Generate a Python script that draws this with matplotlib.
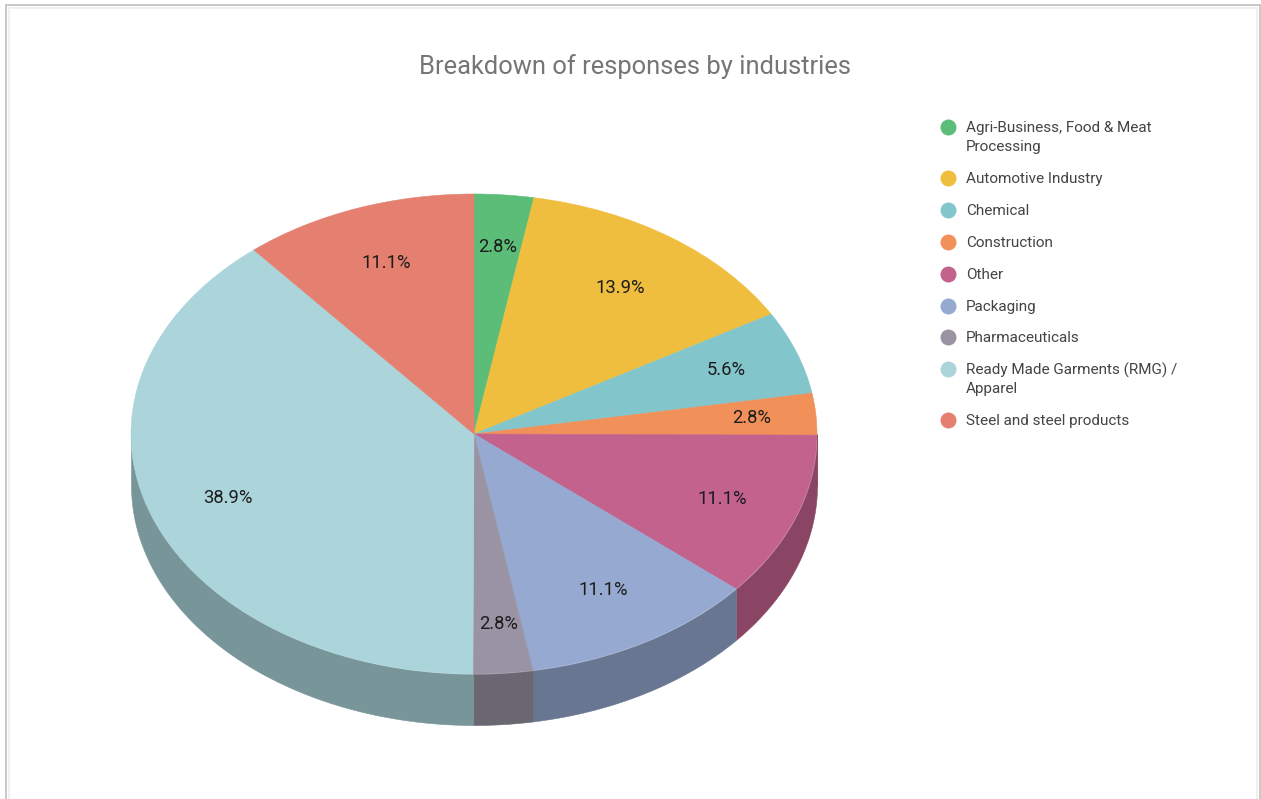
import matplotlib
matplotlib.use('Agg')
import matplotlib.pyplot as plt
from matplotlib.colors import to_rgb
from matplotlib.lines import Line2D
import numpy as np

plt.rcParams['font.family'] = ['Roboto', 'DejaVu Sans']

title = 'Breakdown of responses by industries'
industries = ['Agri-Business, Food & Meat\nProcessing', 'Automotive Industry', 'Chemical',
              'Construction', 'Other', 'Packaging', 'Pharmaceuticals',
              'Ready Made Garments (RMG) /\nApparel', 'Steel and steel products']
shares = [2.8, 13.9, 5.6, 2.8, 11.1, 11.1, 2.8, 38.9, 11.1]
colors = ['#5BBD77', '#F0BE3E', '#82C6CB', '#F19059', '#C4628E',
          '#96A9D0', '#9993A3', '#ABD5DB', '#E57F6F']

W, H = 1261, 799
RX, RY = 343, 240
DEPTH = 51 / RY  # wall height in units of the squashed radius
SHADE = 0.7
# pixel shifts for the percent labels, away from the plain radial spot
label_shift = [(0, -1), (-7, 7), (1, 0), (11, 0), (-3, 0), (-4, -6), (2, 3), (5, 0), (4, 5)]

fig = plt.figure(figsize=(W / 100, H / 100), dpi=100, facecolor='white')

# the axes box is stretched so the unit pie comes out as an ellipse
ax = fig.add_axes([131 / W, 1 - 674 / H, 2 * RX / W, 2 * RY / H])
wedges, texts, autotexts = ax.pie(shares, colors=colors, startangle=90, counterclock=False,
                                  autopct='%.1f%%', pctdistance=0.78,
                                  wedgeprops={'linewidth': 0.4}, frame=False)
for w, c in zip(wedges, colors):
    w.set_edgecolor(c)
    w.set_zorder(3)
for t, (dx, dy) in zip(autotexts, label_shift):
    px, py = t.get_position()
    t.set_position((px + dx / RX, py - dy / RY))
    t.set_fontsize(13.2)
    t.set_color('#1c1c1c')
    t.set_zorder(4)
ax.set_aspect('auto')
ax.set_xlim(-1, 1)
ax.set_ylim(-1, 1)
ax.axis('off')

# side wall of the disc, only the front half can be seen
ends = 360 * np.cumsum(shares) / np.sum(shares)
starts = np.concatenate([[0], ends[:-1]])
for a, b, c in zip(starts, ends, colors):
    a, b = max(a, 90), min(b, 270)
    if b <= a:
        continue
    t = np.radians(np.linspace(a, b, 120))
    x = np.sin(t)
    y = np.cos(t)
    dark = tuple(v * SHADE for v in to_rgb(c))
    ax.fill_between(x, y, y - DEPTH, color=dark, linewidth=0.4, clip_on=False, zorder=2)

fig.text(635 / W, 1 - 67 / H, title, ha='center', va='center', fontsize=18.4, color='#757575')

# legend by hand, dot sits on the first line of a wrapped name
row = 127
for name, c in zip(industries, colors):
    fig.add_artist(Line2D([948 / W], [1 - row / H], linestyle='none', marker='o', markersize=11.5,
                          markeredgewidth=0, color=c))
    lines = name.split('\n')
    for i, part in enumerate(lines):
        fig.text(966 / W, 1 - (row + 5 + 19 * i) / H, part, ha='left', va='baseline',
                 fontsize=11, color='#444444')
    row += 31.9 + 19 * (len(lines) - 1)

# page frame around the chart
for xs, ys, col, lw in [((6, 6), (5, 799), '#c8c8c8', 1.4), ((6, 1260), (5, 5), '#c8c8c8', 1.4),
                        ((1260, 1260), (5, 799), '#c8c8c8', 1.4),
                        ((9, 9), (8, 799), '#f0f0f0', 1.4), ((9, 1257), (8, 8), '#f0f0f0', 1.4),
                        ((1257, 1257), (8, 799), '#f0f0f0', 1.4)]:
    fig.add_artist(Line2D([v / W for v in xs], [1 - v / H for v in ys], color=col, linewidth=lw))

fig.savefig('out.png', dpi=100)
